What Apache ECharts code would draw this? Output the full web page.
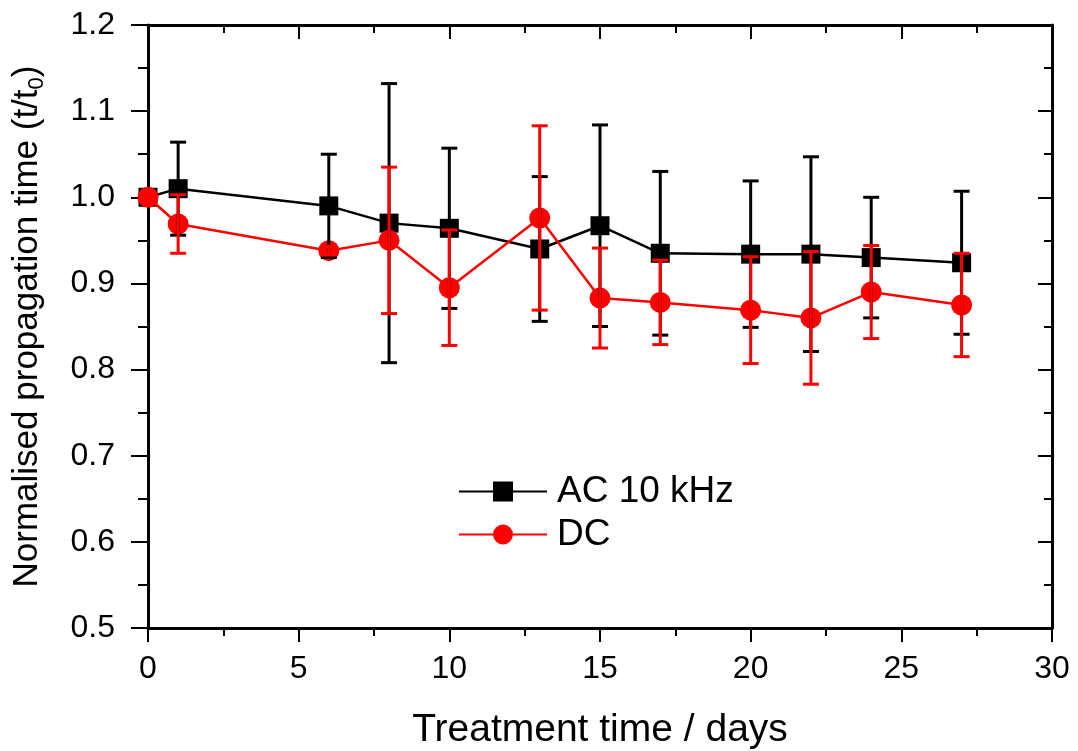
<!DOCTYPE html>
<html>
<head>
<meta charset="utf-8">
<script src="https://cdn.jsdelivr.net/npm/echarts@6/dist/echarts.min.js"></script>
<style>
  html, body { margin: 0; padding: 0; background: #fff; }
  #main { width: 1078px; height: 751px; }
</style>
</head>
<body>
<div id="main"></div>
<script>
// data
var days = [0, 1, 6, 8, 10, 13, 15, 17, 20, 22, 24, 27];
var acMean = [1.000, 1.010, 0.990, 0.970, 0.964, 0.940, 0.967, 0.935, 0.934, 0.934, 0.930, 0.924];
var acErr = [0, 0.054, 0.060, 0.162, 0.093, 0.084, 0.117, 0.095, 0.085, 0.113, 0.070, 0.083];
var dcMean = [1.000, 0.969, 0.938, 0.950, 0.895, 0.976, 0.883, 0.878, 0.869, 0.860, 0.890, 0.875];
var dcErr = [0, 0.034, 0.005, 0.085, 0.067, 0.107, 0.058, 0.049, 0.062, 0.077, 0.054, 0.060];
var seriesNames = ['AC 10 kHz', 'DC'];

var FONT = '"Liberation Sans", Arial, sans-serif';

function pairs(xs, ys) {
    return xs.map(function (x, i) { return [x, ys[i]]; });
}

function errData(xs, ys, es) {
    var out = [];
    xs.forEach(function (x, i) {
        if (es[i] > 0) out.push([x, ys[i] - es[i], ys[i] + es[i]]);
    });
    return out;
}

// vertical bar with caps
function errorBar(color) {
    return function (params, api) {
        var x = api.value(0);
        var lo = api.coord([x, api.value(1)]);
        var hi = api.coord([x, api.value(2)]);
        var cap = 8;
        var style = { stroke: color, lineWidth: 3 };
        return {
            type: 'group',
            children: [
                { type: 'line', shape: { x1: lo[0], y1: lo[1], x2: hi[0], y2: hi[1] }, style: style },
                { type: 'line', shape: { x1: hi[0] - cap, y1: hi[1], x2: hi[0] + cap, y2: hi[1] }, style: style },
                { type: 'line', shape: { x1: lo[0] - cap, y1: lo[1], x2: lo[0] + cap, y2: lo[1] }, style: style }
            ]
        };
    };
}

var chart = echarts.init(document.getElementById('main'), null, { renderer: 'canvas' });

var axisLine = { show: true, onZero: false, lineStyle: { color: '#000', width: 3 } };

var option = {
    backgroundColor: '#fff',
    animation: false,
    grid: {
        left: 148, right: 26, top: 25, bottom: 123,
        outerBoundsMode: 'none'
    },
    legend: {
        data: seriesNames,
        orient: 'vertical',
        left: 458,
        top: 473,
        padding: 0,
        itemWidth: 88,
        itemHeight: 25,
        itemGap: 6,
        textStyle: { fontFamily: FONT, fontSize: 37, color: '#000', lineHeight: 35, padding: [0, 0, 0, 5] }
    },
    xAxis: [{
        type: 'value',
        position: 'bottom',
        min: 0, max: 30, interval: 5,
        axisLine: axisLine,
        axisTick: { show: true, inside: false, length: 14, lineStyle: { width: 2, color: '#000' } },
        minorTick: { show: true, splitNumber: 2, length: 8, lineStyle: { width: 2, color: '#000' } },
        splitLine: { show: false },
        axisLabel: { margin: 25, fontFamily: FONT, fontSize: 32, color: '#000' },
        name: 'Treatment time / days',
        nameLocation: 'middle',
        nameGap: 83,
        nameTextStyle: { fontFamily: FONT, fontSize: 39, color: '#000' }
    }, {
        type: 'value',
        position: 'top',
        min: 0, max: 30, interval: 5,
        axisLine: axisLine,
        axisTick: { show: true, inside: true, length: 14, lineStyle: { width: 2, color: '#000' } },
        minorTick: { show: true, splitNumber: 2, length: 8, lineStyle: { width: 2, color: '#000' } },
        splitLine: { show: false },
        axisLabel: { show: false }
    }],
    yAxis: [{
        type: 'value',
        position: 'left',
        min: 0.5, max: 1.2, interval: 0.1,
        axisLine: axisLine,
        axisTick: { show: true, inside: false, length: 17, lineStyle: { width: 2, color: '#000' } },
        minorTick: { show: true, splitNumber: 2, length: 10, lineStyle: { width: 2, color: '#000' } },
        splitLine: { show: false },
        axisLabel: {
            margin: 33, fontFamily: FONT, fontSize: 32, color: '#000',
            formatter: function (v) { return v.toFixed(1); }
        },
        name: '{n|Normalised propagation time (t/t}{s|0}{n|)}',
        nameLocation: 'middle',
        nameRotate: 90,
        nameGap: 100,
        nameTextStyle: {
            rich: {
                n: { fontFamily: FONT, fontSize: 35, color: '#000', lineHeight: 42 },
                s: { fontFamily: FONT, fontSize: 22, color: '#000', lineHeight: 42, verticalAlign: 'bottom', padding: [15, 0, 0, 0] }
            }
        }
    }, {
        type: 'value',
        position: 'right',
        min: 0.5, max: 1.2, interval: 0.1,
        axisLine: axisLine,
        axisTick: { show: true, inside: true, length: 14, lineStyle: { width: 2, color: '#000' } },
        minorTick: { show: true, splitNumber: 2, length: 8, lineStyle: { width: 2, color: '#000' } },
        splitLine: { show: false },
        axisLabel: { show: false }
    }],
    series: [{
        name: seriesNames[0],
        type: 'line',
        data: pairs(days, acMean),
        symbol: 'rect',
        symbolSize: 19,
        color: '#000',
        lineStyle: { color: '#000', width: 2.5 },
        itemStyle: { color: '#000' },
        z: 2
    }, {
        name: seriesNames[1],
        type: 'line',
        data: pairs(days, dcMean),
        symbol: 'circle',
        symbolSize: 21,
        color: '#ff0000',
        lineStyle: { color: '#ff0000', width: 2.5 },
        itemStyle: { color: '#ff0000' },
        z: 3
    }, {
        name: 'acErr',
        type: 'custom',
        data: errData(days, acMean, acErr),
        renderItem: errorBar('#000'),
        encode: { x: 0, y: [1, 2] },
        z: 4
    }, {
        name: 'dcErr',
        type: 'custom',
        data: errData(days, dcMean, dcErr),
        renderItem: errorBar('#ff0000'),
        encode: { x: 0, y: [1, 2] },
        z: 5
    }]
};

chart.setOption(option);
</script>
</body>
</html>
